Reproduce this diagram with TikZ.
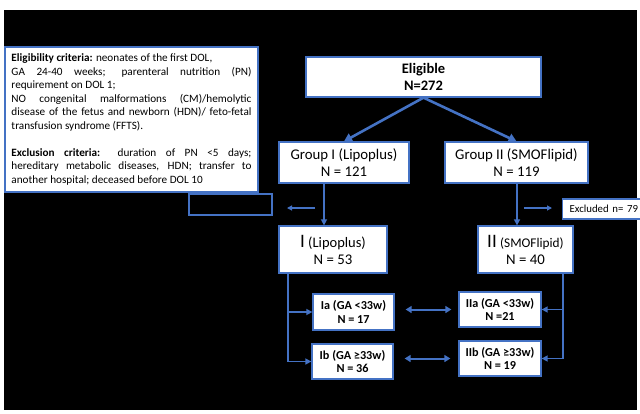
\documentclass[tikz,border=0pt]{standalone}
\usepackage{fontspec}
\setmainfont{Carlito}
\usetikzlibrary{arrows.meta,calc}
\definecolor{bl}{HTML}{4472C4}
\begin{document}
\begin{tikzpicture}[x=1pt,y=-1pt,
  box/.style={draw=bl,fill=white,line width=1.3pt,inner sep=0pt,align=center},
  bigtxt/.style={font=\fontsize{14.8}{17}\selectfont},
  subtxt/.style={font=\fontsize{12.2}{13.5}\selectfont\bfseries},
  conn/.style={draw=bl,line width=1.6pt},
  arr/.style={conn,-{Triangle[length=6pt,width=6pt]}},
  thickarr/.style={draw=bl,line width=2.6pt,-{Triangle[length=8pt,width=9pt]}},
  dblarr/.style={conn,line width=2pt,{Triangle[length=6pt,width=7pt]}-{Triangle[length=6pt,width=7pt]}},
  thinarr/.style={draw=bl,line width=1.1pt,-{Triangle[length=5pt,width=5pt]}}]
\useasboundingbox (0,0) rectangle (640,413);
\fill[white] (0,0) rectangle (640,413);
\fill[black] (4,10) rectangle (637,410);
% criteria box
\node[box,minimum width=253pt,minimum height=145pt] (crit) at (131.5,119.5) {\parbox{240pt}{\fontsize{11.2}{13.5}\selectfont
\makebox[\linewidth][l]{\textbf{Eligibility criteria:} neonates of the first DOL,}\\
\makebox[\linewidth][s]{GA 24-40 weeks; parenteral nutrition (PN)}\\
requirement on DOL 1;\\
\makebox[\linewidth][s]{NO congenital malformations (CM)/hemolytic}\\
\makebox[\linewidth][s]{disease of the fetus and newborn (HDN)/ feto-fetal}\\
transfusion syndrome (FFTS).\\[13.5pt]
\makebox[\linewidth][s]{\textbf{Exclusion criteria:} duration of PN <5 days;}\\
\makebox[\linewidth][s]{hereditary metabolic diseases, HDN; transfer to}\\
another hospital; deceased before DOL 10}};
% empty box
\node[draw=bl,line width=1.3pt,minimum width=83pt,minimum height=21pt,inner sep=0pt] (empty) at (230.5,204.5) {};
\coordinate (la1) at (315,208);
\coordinate (la2) at (287,208);
\draw[thinarr] (la1) -- (la2);
% main boxes
\node[box,font=\fontsize{14.5}{17}\selectfont\bfseries,minimum width=235pt,minimum height=40pt] (elig) at (423.5,77) {Eligible\\N=272};
\node[box,bigtxt,minimum width=130pt,minimum height=41pt] (gI) at (344,162.5) {Group I (Lipoplus)\\N = 121};
\node[box,bigtxt,minimum width=143pt,minimum height=41pt] (gII) at (516.5,162.5) {Group II (SMOFlipid)\\N = 119};
\draw[thickarr] (elig.south) -- (gI.north);
\draw[thickarr] (elig.south) -- (gII.north);
\node[box,bigtxt,minimum width=108pt,minimum height=47pt] (I) at (333,249.5) {{\fontsize{19}{18}\selectfont I} {\fontsize{14.5}{17}\selectfont(Lipoplus)}\\N = 53};
\node[box,bigtxt,minimum width=95pt,minimum height=47pt] (II) at (525.5,249.5) {{\fontsize{19}{18}\selectfont II} {\fontsize{13.3}{17}\selectfont(SMOFlipid)}\\N = 40};
\coordinate (xL) at (324,0);
\coordinate (xR) at (517,0);
\draw[arr] (gI.south -| xL) -- (I.north -| xL);
\draw[arr] (gII.south -| xR) -- (II.north -| xR);
% excluded
\node[box,anchor=west,minimum height=20pt,text width=76pt,align=left,inner xsep=7pt,font=\fontsize{10.8}{12}\selectfont] (excl) at (562,209) {Excluded n= 79};
\coordinate (ra1) at (524,208);
\coordinate (ra2) at (552,208);
\draw[thinarr] (ra1) -- (ra2);
% subgroups
\node[box,subtxt,minimum width=81pt,minimum height=36pt] (Ia) at (353.5,312) {Ia (GA <33w)\\N = 17};
\node[box,subtxt,minimum width=81pt,minimum height=35pt] (Ib) at (352.5,361.5) {Ib (GA ≥33w)\\N = 36};
\node[box,subtxt,minimum width=82pt,minimum height=35pt] (IIa) at (500,309.5) {IIa (GA <33w)\\N =21};
\node[box,subtxt,minimum width=82pt,minimum height=35pt] (IIb) at (500,358.5) {IIb (GA ≥33w)\\N = 19};
\coordinate (xLL) at (288,0);
\coordinate (xRR) at (563,0);
\draw[arr] (I.south -| xLL) |- (Ib.west);
\draw[arr] (xLL |- Ia.west) -- (Ia.west);
\draw[arr] (II.south -| xRR) |- (IIb.east);
\draw[arr] (xRR |- IIa.east) -- (IIa.east);
\draw[dblarr,shorten <=11pt,shorten >=7pt] (Ia.east |- IIa.west) -- (IIa.west);
\draw[dblarr,shorten <=11pt,shorten >=8pt] (Ib.east |- IIb.west) -- (IIb.west);
\end{tikzpicture}
\end{document}
